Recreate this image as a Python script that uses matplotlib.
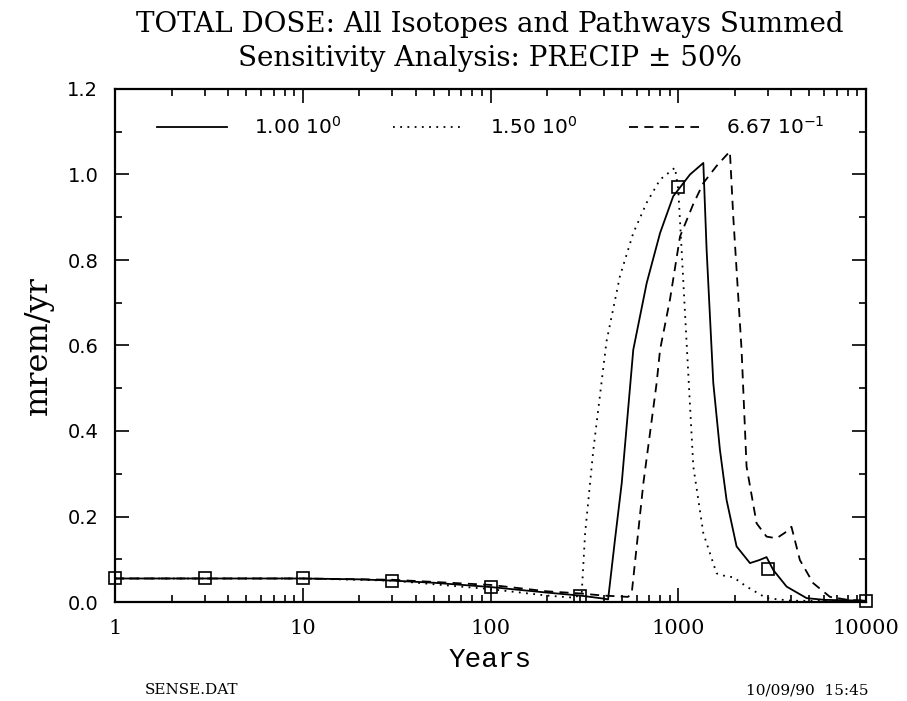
"""Total dose sensitivity plot (PRECIP +/- 50%)."""
import matplotlib

matplotlib.use("Agg")
import matplotlib.pyplot as plt
from matplotlib.ticker import FixedLocator, LogLocator, MultipleLocator, NullFormatter

# base case, PRECIP x 1.00
years_base = [1, 3, 10, 20, 30, 50, 100, 200, 300, 400, 423, 460, 500, 576, 679,
              800, 940, 1155, 1360, 1416, 1537, 1667, 1808, 2045, 2410, 2700,
              2953, 3205, 3777, 4830, 6000, 10000]
dose_base = [0.055, 0.055, 0.055, 0.053, 0.050, 0.045, 0.035, 0.022, 0.015, 0.008,
             0.006, 0.145, 0.278, 0.590, 0.746, 0.863, 0.949, 1.000, 1.027, 0.824,
             0.512, 0.356, 0.239, 0.130, 0.091, 0.098, 0.105, 0.075, 0.036, 0.009,
             0.005, 0.003]

# square markers on the base curve
years_marks = [1, 3, 10, 30, 100, 300, 1000, 3000, 10000]
dose_marks = [0.055, 0.055, 0.055, 0.050, 0.035, 0.015, 0.970, 0.078, 0.003]

# PRECIP x 1.50
years_high = [1, 10, 30, 100, 200, 280, 306, 319, 353, 415, 489, 576, 679, 800,
              961, 1000, 1042, 1108, 1203, 1360, 1600, 1800, 1963, 2312, 2953,
              4000, 10000]
dose_high = [0.055, 0.055, 0.050, 0.030, 0.015, 0.010, 0.020, 0.160, 0.356, 0.610,
             0.762, 0.863, 0.934, 0.988, 1.016, 0.965, 0.824, 0.606, 0.317, 0.161,
             0.067, 0.060, 0.058, 0.036, 0.009, 0.003, 0.002]

# PRECIP x 0.667
years_low = [1, 10, 30, 100, 200, 300, 400, 540, 565, 652, 767, 800, 903, 1022,
             1200, 1360, 1600, 1884, 1963, 2174, 2311, 2614, 2953, 3337, 3700,
             4008, 4446, 5235, 6427, 8000, 10000]
dose_low = [0.055, 0.055, 0.052, 0.040, 0.025, 0.020, 0.015, 0.012, 0.020, 0.278,
            0.512, 0.590, 0.707, 0.855, 0.930, 0.980, 1.020, 1.054, 0.902, 0.590,
            0.317, 0.184, 0.153, 0.149, 0.162, 0.176, 0.098, 0.044, 0.012, 0.005,
            0.003]

labels = ["1.00 10$^{0}$", "1.50 10$^{0}$", "6.67 10$^{-1}$"]

W, H = 907, 701
fig = plt.figure(figsize=(W / 100, H / 100), dpi=100)
ax = fig.add_axes([115 / W, 1 - 602 / H, 751 / W, 513 / H])

lw = 1.3
ax.plot(years_base, dose_base, color="black", lw=lw, label=labels[0])
ax.plot(years_high, dose_high, color="black", lw=lw, dashes=(1, 3), label=labels[1])
ax.plot(years_low, dose_low, color="black", lw=lw, dashes=(5, 3.5), label=labels[2])
ax.plot(years_marks, dose_marks, ls="none", marker="s", ms=8, mfc="none",
        mec="black", mew=1.2, clip_on=False)

ax.set_xscale("log")
ax.set_xlim(1, 10000)
ax.set_ylim(0, 1.2)

ax.xaxis.set_major_locator(FixedLocator([1, 10, 100, 1000, 10000]))
ax.xaxis.set_minor_locator(LogLocator(base=10, subs=range(2, 10)))
ax.xaxis.set_minor_formatter(NullFormatter())
ax.set_xticklabels(["1", "10", "100", "1000", "10000"], family="DejaVu Serif",
                   fontsize=15)
ax.yaxis.set_major_locator(MultipleLocator(0.2))
ax.yaxis.set_minor_locator(MultipleLocator(0.1))
ax.set_yticklabels([f"{v:.1f}" for v in ax.get_yticks()], family="DejaVu Sans",
                   fontsize=14)

ax.tick_params(which="both", direction="in", top=True, right=True, width=1.2)
ax.tick_params(which="major", length=10, pad=12)
ax.tick_params(which="minor", length=5)
for s in ax.spines.values():
    s.set_linewidth(1.6)

ax.set_xlabel("Years", family="Liberation Mono", fontsize=20, labelpad=7)
ax.set_ylabel("mrem/yr", family="DejaVu Serif", fontsize=23, labelpad=10)

ax.legend(loc="upper center", bbox_to_anchor=(0.5, 0.983), ncol=3, frameon=False,
          handlelength=3.5, columnspacing=2.6, handletextpad=1.3,
          prop={"family": "DejaVu Sans", "size": 14.5})

fig.text(490 / W, 1 - 24 / H, "TOTAL DOSE: All Isotopes and Pathways Summed",
         ha="center", va="center", family="DejaVu Serif", fontsize=20)
fig.text(490 / W, 1 - 58 / H, "Sensitivity Analysis: PRECIP \u00b1 50%",
         ha="center", va="center", family="DejaVu Serif", fontsize=20)
fig.text(145 / W, 1 - 690 / H, "SENSE.DAT", ha="left", va="center",
         family="DejaVu Serif", fontsize=11)
fig.text(868 / W, 1 - 690 / H, "10/09/90  15:45", ha="right", va="center",
         family="DejaVu Serif", fontsize=11)

fig.savefig("out.png", dpi=100)
